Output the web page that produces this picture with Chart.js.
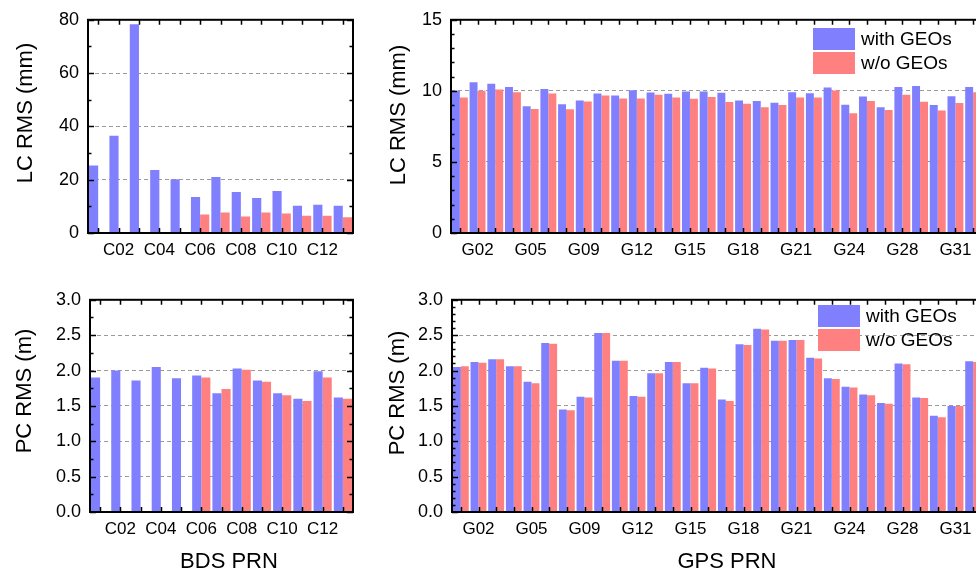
<!DOCTYPE html>
<html>
<head>
<meta charset="utf-8">
<script src="https://cdn.jsdelivr.net/npm/chart.js@4.4.0/dist/chart.umd.min.js"></script>
<style>
  html, body { margin:0; padding:0; background:#fff; width:976px; height:575px; overflow:hidden; }
  .panel { position:absolute; }
  .legend { position:absolute; font-family:"Liberation Sans", Arial, sans-serif; font-size:19px; color:#000; }
  .legend div { height:24px; line-height:22px; white-space:nowrap; }
  .legend span { display:inline-block; width:42px; height:22px; vertical-align:top; margin-right:6px; }
  .atitle { position:absolute; font-family:"Liberation Sans", Arial, sans-serif; font-size:22px; color:#000;
            white-space:nowrap; line-height:1; transform:translate(-50%,-50%); }
  .atitle.rot { transform:translate(-50%,-50%) rotate(-90deg); }
</style>
</head>
<body>
<canvas id="bdsLc" class="panel" width="360" height="275" style="left:0;top:0"></canvas>
<canvas id="bdsPc" class="panel" width="360" height="295" style="left:0;top:280px"></canvas>
<canvas id="gpsLc" class="panel" width="620" height="275" style="left:380px;top:0"></canvas>
<canvas id="gpsPc" class="panel" width="620" height="295" style="left:380px;top:280px"></canvas>
<div id="legLc" class="legend" style="left:813px;top:28px"></div>
<div id="legPc" class="legend" style="left:818px;top:305px"></div>
<div class="atitle rot" style="left:25px;top:113px">LC RMS (mm)</div>
<div class="atitle rot" style="left:24px;top:391px">PC RMS (m)</div>
<div class="atitle rot" style="left:398px;top:115px">LC RMS (mm)</div>
<div class="atitle rot" style="left:397px;top:393px">PC RMS (m)</div>
<div class="atitle" style="left:229px;top:561px">BDS PRN</div>
<div class="atitle" style="left:727px;top:561px">GPS PRN</div>
<script>
// PRN categories
var bdsPrn = ['C01','C02','C03','C04','C05','C06','C07','C08','C09','C10','C11','C12','C14'];
var gpsPrn = ['G01','G02','G03','G04','G05','G06','G07','G09','G10','G11','G12','G13','G14','G15','G16',
              'G17','G18','G19','G20','G21','G22','G23','G24','G25','G27','G28','G29','G30','G31','G32'];

// BDS LC RMS (mm)
var bdsLcWith    = [25.3, 36.5, 78.3, 23.6, 20.2, 13.5, 21.0, 15.4, 13.1, 15.8, 10.2, 10.6, 10.2];
var bdsLcWithout = [null, null, null, null, null, 6.9, 7.7, 6.2, 7.7, 7.3, 6.5, 6.5, 5.9];
// BDS PC RMS (m)
var bdsPcWith    = [1.90, 2.00, 1.86, 2.05, 1.89, 1.93, 1.68, 2.03, 1.86, 1.68, 1.60, 1.99, 1.62];
var bdsPcWithout = [null, null, null, null, null, 1.90, 1.74, 2.01, 1.84, 1.65, 1.57, 1.90, 1.60];

// GPS LC RMS (mm)
var gpsLcWith    = [10.0, 10.6, 10.5, 10.28, 8.91, 10.14, 9.05, 9.33, 9.81, 9.68, 10.05, 9.88, 9.79, 9.95, 9.95,
                    9.86, 9.33, 9.28, 9.17, 9.90, 9.84, 10.23, 9.03, 9.61, 8.84, 10.28, 10.35, 9.00, 9.63, 10.28];
var gpsLcWithout = [9.54, 10.0, 10.1, 9.90, 8.72, 9.81, 8.70, 9.26, 9.68, 9.47, 9.47, 9.72, 9.54, 9.44, 9.56,
                    9.21, 9.10, 8.84, 9.00, 9.54, 9.54, 10.02, 8.43, 9.28, 8.66, 9.72, 9.24, 8.61, 9.14, 9.90];
// GPS PC RMS (m)
var gpsPcWith    = [2.05, 2.12, 2.16, 2.06, 1.84, 2.39, 1.45, 1.63, 2.53, 2.14, 1.64, 1.96, 2.12, 1.82, 2.04,
                    1.59, 2.37, 2.59, 2.42, 2.43, 2.18, 1.89, 1.77, 1.66, 1.54, 2.10, 1.62, 1.36, 1.50, 2.13];
var gpsPcWithout = [2.06, 2.11, 2.16, 2.06, 1.82, 2.38, 1.44, 1.62, 2.53, 2.14, 1.63, 1.96, 2.12, 1.82, 2.03,
                    1.57, 2.36, 2.58, 2.42, 2.43, 2.17, 1.88, 1.76, 1.65, 1.53, 2.09, 1.61, 1.34, 1.50, 2.12];

var seriesNames = ['with GEOs', 'w/o GEOs'];
var blue = '#8080ff', red = '#ff8080';
var FONT = '"Liberation Sans", Arial, sans-serif';

// frame around the plot + inward ticks like the origin plot
var framePlugin = {
    id: 'frame',
    afterDraw: function(chart, args, opts) {
        var ctx = chart.ctx, a = chart.chartArea, ys = chart.scales.y, xs = chart.scales.x;
        ctx.save();
        ctx.strokeStyle = '#000';
        ctx.lineWidth = 1.5;
        var n = Math.round((ys.max - ys.min) / opts.minor);
        for (var k = 0; k <= n; k++) {
            var v = ys.min + k * opts.minor;
            var py = Math.round(ys.getPixelForValue(v)) + 0.5;
            var r = v / opts.major;
            var len = Math.abs(r - Math.round(r)) < 1e-6 ? 6 : 3.5;
            ctx.beginPath();
            ctx.moveTo(a.left, py); ctx.lineTo(a.left + len, py);
            ctx.moveTo(a.right, py); ctx.lineTo(a.right - len, py);
            ctx.stroke();
        }
        for (var i = 0; i < chart.data.labels.length; i++) {
            var px = Math.round(xs.getPixelForValue(i)) + 0.5;
            ctx.beginPath();
            ctx.moveTo(px, a.bottom); ctx.lineTo(px, a.bottom - 5);
            ctx.moveTo(px, a.top); ctx.lineTo(px, a.top + 5);
            ctx.stroke();
        }
        ctx.lineWidth = 2;
        ctx.strokeRect(a.left, a.top, a.right - a.left, a.bottom - a.top);
        ctx.restore();
    }
};

function makeChart(id, labels, withData, withoutData, cfg) {
    var ctx = document.getElementById(id).getContext('2d');
    var ymax = cfg.max;
    return new Chart(ctx, {
        type: 'bar',
        data: {
            labels: labels,
            datasets: [
                { label: seriesNames[0], data: withData, backgroundColor: blue, borderWidth: 0 },
                { label: seriesNames[1], data: withoutData, backgroundColor: red, borderWidth: 0 }
            ]
        },
        options: {
            responsive: false,
            animation: false,
            devicePixelRatio: 1,
            categoryPercentage: 0.9,
            barPercentage: 1.0,
            layout: { padding: { top: cfg.padTop, right: cfg.padRight, left: 0, bottom: 0 } },
            plugins: {
                legend: { display: false },
                tooltip: { enabled: false },
                frame: { minor: cfg.minor, major: cfg.step }
            },
            scales: {
                x: {
                    offset: true,
                    grid: { display: false, drawTicks: false },
                    border: { display: false },
                    ticks: {
                        autoSkip: false, maxRotation: 0, padding: 7, color: '#000',
                        font: { family: FONT, size: 17 },
                        callback: function(val, idx) {
                            return idx % cfg.every === 1 ? labels[idx] : '';
                        }
                    },
                    afterFit: function(s) { s.height = cfg.xh; }
                },
                y: {
                    min: 0, max: ymax,
                    grid: {
                        drawTicks: false, lineWidth: 1,
                        color: function(c) {
                            var v = c.tick ? c.tick.value : 0;
                            return (v <= 0 || v >= ymax) ? 'rgba(0,0,0,0)' : '#9a9a9a';
                        }
                    },
                    border: { display: false, dash: [4, 3] },
                    ticks: {
                        stepSize: cfg.step, padding: 9, color: '#000',
                        font: { family: FONT, size: 18 },
                        callback: function(v) { return v.toFixed(cfg.dec); }
                    },
                    afterFit: function(s) { s.width = cfg.yw; }
                }
            }
        },
        plugins: [framePlugin]
    });
}

var c1 = makeChart('bdsLc', bdsPrn, bdsLcWith, bdsLcWithout,
    { max: 80, step: 20, minor: 10, dec: 0, every: 2, padTop: 17, padRight: 7, yw: 88, xh: 42 });
var c2 = makeChart('bdsPc', bdsPrn, bdsPcWith, bdsPcWithout,
    { max: 3, step: 0.5, minor: 0.25, dec: 1, every: 2, padTop: 16, padRight: 7, yw: 90, xh: 63 });
var c3 = makeChart('gpsLc', gpsPrn, gpsLcWith, gpsLcWithout,
    { max: 15, step: 5, minor: 1, dec: 0, every: 3, padTop: 17, padRight: 18, yw: 71, xh: 42 });
var c4 = makeChart('gpsPc', gpsPrn, gpsPcWith, gpsPcWithout,
    { max: 3, step: 0.5, minor: 0.1, dec: 1, every: 3, padTop: 16, padRight: 18, yw: 72, xh: 63 });

// legends built from the dataset names/colours
function buildLegend(divId, chart) {
    var html = '';
    chart.data.datasets.forEach(function(ds) {
        html += '<div><span style="background:' + ds.backgroundColor + '"></span>' + ds.label + '</div>';
    });
    document.getElementById(divId).innerHTML = html;
}
buildLegend('legLc', c3);
buildLegend('legPc', c4);
</script>
</body>
</html>
